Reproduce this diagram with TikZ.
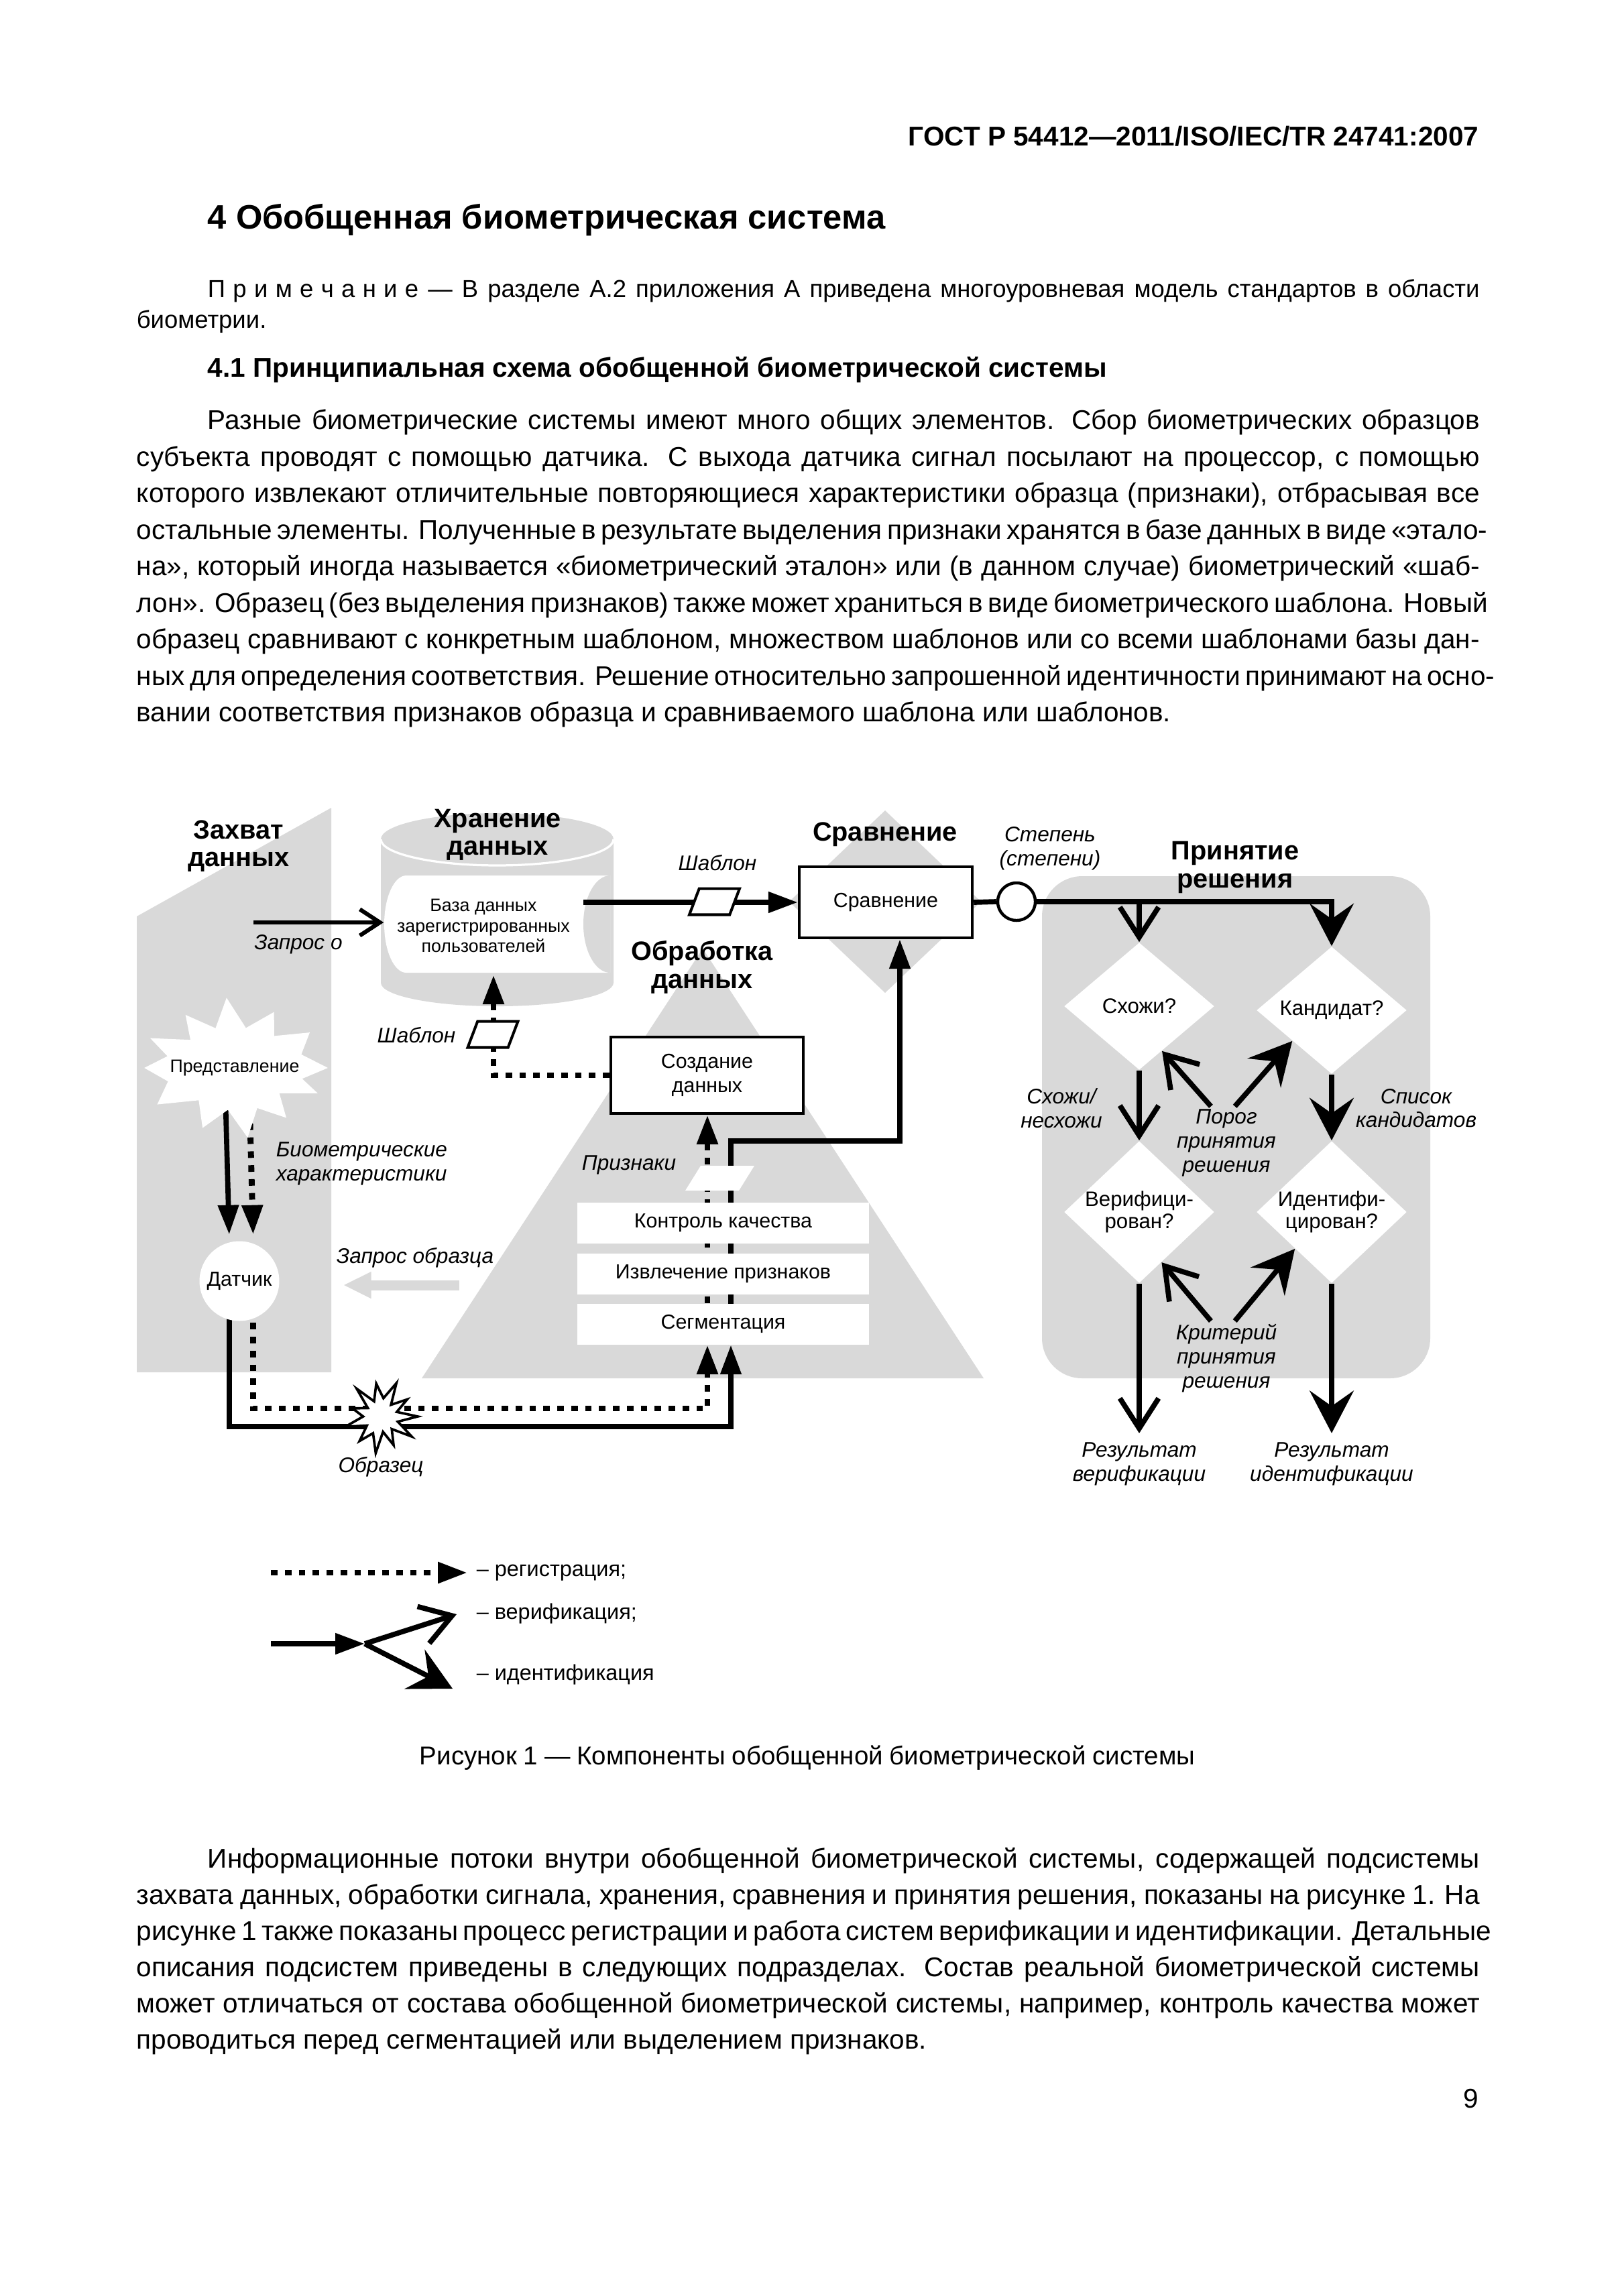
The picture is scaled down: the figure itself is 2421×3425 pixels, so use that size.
\documentclass[tikz,border=0pt]{standalone}
\usepackage{fontspec}
\setmainfont{Liberation Sans}
\usetikzlibrary{shapes.geometric,arrows.meta,positioning}
\definecolor{panel}{gray}{0.85}
\newcommand\px{0.08674mm}
\newlength\tw
\setlength\tw{173.74mm}
\newcommand\ls{\kern2.8pt}
\newcommand\bodyfont{\fontsize{10}{13.45}\selectfont}
\newcommand\notefont{\fontsize{9}{11.3}\selectfont}
\newcommand\hdfont{\fontsize{9.8}{10.2}\selectfont\bfseries}
\newcommand\lblfont{\fontsize{7.8}{8.8}\selectfont\itshape}
\newcommand\boxfont{\fontsize{7.5}{8.9}\selectfont}
\newcommand\tinyfont{\fontsize{6.6}{7.6}\selectfont}
\pgfdeclarelayer{zone}
\pgfdeclarelayer{wires}
\pgfsetlayers{zone,wires,main}
\tikzstyle{zonehead} = [font=\hdfont, align=center, inner sep=0pt]
\tikzstyle{lbl} = [font=\lblfont, align=center, inner sep=1pt]
\tikzstyle{legtxt} = [font=\fontsize{8}{9}\selectfont, anchor=west, inner sep=0pt]
\tikzstyle{procbox} = [rectangle, draw, line width=1.1pt, fill=white, font=\boxfont, align=center, inner sep=0pt]
\tikzstyle{band} = [rectangle, fill=white, minimum width=37.73mm, minimum height=5.29mm, inner sep=0pt, font=\boxfont]
\tikzstyle{sensor} = [circle, fill=white, minimum size=10.32mm, inner sep=0pt, font=\boxfont]
\tikzstyle{decide} = [diamond, fill=white, inner sep=0pt, minimum width=19.43mm, minimum height=16.48mm]
\tikzstyle{dtext} = [font=\fontsize{7.7}{8.3}\selectfont, align=center, inner sep=0pt]
\tikzstyle{slab} = [trapezium, trapezium stretches=true, trapezium left angle=72, trapezium right angle=108,
  draw, line width=1pt, fill=white, minimum width=6.5mm, minimum height=3.38mm, inner sep=1pt]
\tikzstyle{solidw} = [line width=1.9pt]
\tikzstyle{dotw} = [line width=2.2pt, dash pattern=on 0.85mm off 0.95mm]
\tikzset{
  tri/.tip={Triangle[length=3.8mm,width=2.6mm]},
  vtip/.tip={Straight Barb[length=3.9mm,width=5mm]},
  idtip/.tip={Stealth[length=5.5mm,width=5.7mm,inset=2mm]},
  qtip/.tip={Straight Barb[length=2.6mm,width=3.4mm]}
}
\begin{document}
\begin{tikzpicture}[x=\px, y=\px]
\useasboundingbox (0,0) rectangle (2421,-3425);

% grey zones
\begin{pgfonlayer}{zone}
\fill[white] (0,0) rectangle (2421,-3425);
\fill[panel] (204,-1367) -- (494,-1205) -- (494,-2047) -- (204,-2047) -- cycle;
\fill[panel] (568,-1252) -- (568,-1466) arc[start angle=180,end angle=360,x radius=15.05mm,y radius=3.04mm]
  -- (915,-1252) arc[start angle=0,end angle=180,x radius=15.05mm,y radius=3.38mm] -- cycle;
\draw[white, line width=0.8pt] (568,-1252) arc[start angle=180,end angle=360,x radius=15.05mm,y radius=3.38mm];
\fill[white] (910,-1306) -- (606,-1306) arc[start angle=90,end angle=270,x radius=2.86mm,y radius=6.29mm] -- (910,-1451) -- cycle;
\fill[panel] (910,-1306) arc[start angle=90,end angle=270,x radius=3.47mm,y radius=6.29mm] -- cycle;
\fill[panel] (1048,-1415) -- (1467,-2056) -- (629,-2056) -- cycle;
\fill[panel] (1320,-1209) -- (1463,-1345) -- (1320,-1481) -- (1177,-1345) -- cycle;
\fill[panel, rounded corners=5.2mm] (1554,-1307) rectangle (2133,-2056);
\coordinate (reqA) at (685,-1917);
\coordinate (reqB) at (512,-1917);
\draw[panel, line width=1.3mm, -{Triangle[length=3.6mm,width=3.2mm]}] (reqA) -- (reqB);
\end{pgfonlayer}

% page text
\node[anchor=mid east, inner sep=0pt, font=\fontsize{10}{12}\selectfont\bfseries] (gost) at (2206,-207) {ГОСТ Р 54412—2011/ISO/IEC/TR 24741:2007};
\node[anchor=mid west, inner sep=0pt, font=\fontsize{12.5}{15}\selectfont\bfseries] (sect) at (309,-331) {4 Обобщенная биометрическая система};
\node[anchor=mid west, inner sep=0pt, font=\notefont] (note) at (203,-433) {\vtop{%
  \hbox to\tw{\hskip9.2mm П\ls р\ls и\ls м\ls е\ls ч\ls а\ls н\ls и\ls е — В разделе А.2 приложения А приведена многоуровневая модель стандартов в области}
  \hbox{биометрии.}}};
\node[anchor=mid west, inner sep=0pt, font=\fontsize{10}{12}\selectfont\bfseries] (subsect) at (309,-552) {4.1 Принципиальная схема обобщенной биометрической системы};
\node[anchor=mid west, inner sep=0pt, font=\bodyfont] (para1) at (203,-630) {\vtop{%
  \hbox to\tw{\hskip9.2mm Разные биометрические системы имеют много общих элементов. Сбор биометрических образцов}
  \hbox to\tw{субъекта проводят с помощью датчика. С выхода датчика сигнал посылают на процессор, с помощью}
  \hbox to\tw{которого извлекают отличительные повторяющиеся характеристики образца (признаки), отбрасывая все}
  \hbox to\tw{остальные элементы. Полученные в результате выделения признаки хранятся в базе данных в виде «этало-}
  \hbox to\tw{на», который иногда называется «биометрический эталон» или (в данном случае) биометрический «шаб-}
  \hbox to\tw{лон». Образец (без выделения признаков) также может храниться в виде биометрического шаблона. Новый}
  \hbox to\tw{образец сравнивают с конкретным шаблоном, множеством шаблонов или со всеми шаблонами базы дан-}
  \hbox to\tw{ных для определения соответствия. Решение относительно запрошенной идентичности принимают на осно-}
  \hbox{вании соответствия признаков образца и сравниваемого шаблона или шаблонов.}}};

% bursts
\coordinate (reprC) at (350,-1593);
\coordinate (smpC) at (568,-2113);
\fill[white, shift={(reprC)}] (0:139 and 105)
  \foreach \a/\r in {15/0.74, 32/0.95, 47/0.62, 62/0.9, 78/0.58, 95/1.0, 110/0.6, 125/0.92, 140/0.62, 155/1.0, 167/0.74,
    180/0.97, 195/0.74, 212/0.98, 230/0.6, 248/0.92, 263/0.6, 278/1.0, 293/0.62, 308/0.9, 323/0.6, 338/0.96, 348/0.74}
  { -- (\a:{139*\r} and {105*\r}) } -- cycle;
\filldraw[fill=white, line width=0.9pt, shift={(smpC)}] (0:55)
  \foreach \a/\r in {16/0.45, 33/0.85, 49/0.42, 65/1.0, 82/0.5, 98/0.9, 114/0.45, 131/1.0, 147/0.42, 164/0.8, 180/0.48,
    196/1.0, 213/0.45, 229/0.88, 245/0.5, 262/1.0, 278/0.42, 294/0.85, 311/0.45, 327/1.0, 343/0.48}
  { -- (\a:{55*\r}) } -- cycle;

% nodes
\node[font=\tinyfont, inner sep=0pt] (repr) at (reprC) {Представление};
\node[inner sep=0pt] (smp) at (smpC) {};
\node[sensor] (sens) at (357,-1911) {Датчик};
\node[inner sep=0pt, font=\tinyfont, align=center, minimum width=25.68mm, minimum height=12.58mm] (db) at (721,-1381) {База данных\\зарегистрированных\\пользователей};
\node[procbox, minimum width=22.38mm, minimum height=9.19mm] (cmp) at (1321,-1346) {Сравнение};
\node[procbox, minimum width=24.89mm, minimum height=9.89mm] (tmpl) at (1054.5,-1604) {Создание\\данных};
\node[band] (qc) at (1078.5,-1824.5) {Контроль качества};
\node[band] (fe) at (1078.5,-1900) {Извлечение признаков};
\node[band] (seg) at (1078.5,-1975) {Сегментация};
\node[slab] (tpl1) at (1065.5,-1345) {};
\node[slab] (tpl2) at (735,-1543) {};
\node[slab, draw=none, minimum width=8.93mm, minimum height=3.21mm, trapezium left angle=68, trapezium right angle=112] (feat) at (1073.5,-1757.5) {};
\node[circle, draw, line width=1.1pt, fill=white, minimum size=4.86mm, inner sep=0pt] (score) at (1516,-1345) {};
\node[decide, label={[dtext]center:Схожи?}] (sim) at (1699,-1501) {};
\node[decide, label={[dtext]center:Кандидат?}] (cand) at (1986,-1507) {};
\node[decide, minimum height=18.39mm, label={[dtext]center:Верифици-\\рован?}] (ver) at (1699,-1808) {};
\node[decide, minimum height=18.39mm, label={[dtext]center:Идентифи-\\цирован?}] (ident) at (1986,-1808) {};

% headings and labels
\node[zonehead] (hcap) at (356,-1262) {Захват\\данных};
\node[zonehead] (hstore) at (742,-1245) {Хранение\\данных};
\node[zonehead] (hcmp) at (1320,-1245) {Сравнение};
\node[zonehead] (hproc) at (1047,-1443) {Обработка\\данных};
\node[zonehead] (hdec) at (1842,-1294) {Принятие\\решения};
\node[lbl] (lreq) at (445,-1409) {Запрос о};
\node[lbl] (ltpl1) at (1070,-1287) {Шаблон};
\node[lbl] (ltpl2) at (621,-1544) {Шаблон};
\node[lbl, anchor=west, align=left] (lbio) at (407,-1736) {Биометрические\\характеристики};
\node[lbl] (lreq2) at (619,-1876) {Запрос образца};
\node[lbl] (lsmp) at (568,-2188) {Образец};
\node[lbl] (lfeat) at (938,-1738) {Признаки};
\node[lbl] (lscore) at (1566,-1266) {Степень\\(степени)};
\node[lbl] (lsim) at (1583,-1653) {Схожи/\\несхожи};
\node[lbl] (lcand) at (2112,-1653) {Список\\кандидатов};
\node[lbl] (thr) at (1829,-1705) {Порог\\принятия\\решения};
\node[lbl] (crit) at (1829,-2026) {Критерий\\принятия\\решения};
\node[lbl] (resv) at (1699,-2184) {Результат\\верификации};
\node[lbl] (resi) at (1986,-2184) {Результат\\идентификации};

% connectors
\begin{pgfonlayer}{wires}
\coordinate (qo) at (378,-1376);
\draw[line width=1.5pt, -{qtip}] (qo) -- (qo -| db.west);
\draw[dotw, -{tri}] (tmpl.west) -| ([xshift=1.3mm]db.south);
\draw[solidw, -{tri}] (db.east |- cmp.west) -- (cmp.west);
\draw[solidw, -{tri}, shorten >=0.8mm] ([xshift=-1.3mm]repr.center) -- ([xshift=-1.3mm]sens.north);
\draw[dotw, -{tri}, shorten >=0.8mm] ([xshift=1.8mm]repr.center) -- ([xshift=1.8mm]sens.north);
\coordinate (laneS) at (1090,-2128);
\coordinate (laneD) at (1055,-2101);
\coordinate (knee) at (1342,-1702);
\draw[solidw, -{tri}] ([xshift=-1.3mm]sens.center) |- (laneS) -- (laneS |- seg.south);
\draw[dotw, -{tri}] ([xshift=1.8mm]sens.center) |- (laneD) -- (laneD |- seg.south);
\draw[dotw, -{tri}] (laneD |- seg.south) -- (laneD |- tmpl.south);
\draw[solidw, -{tri}] (laneS |- seg.south) |- (knee) -- (knee |- cmp.south);
\draw[solidw] (cmp.east) -- (score.west);
\draw[solidw, -{idtip}] (score.east) -| (cand.north);
\draw[solidw, -{vtip}] (score.east -| sim.north) -- (sim.north);
\draw[solidw, -{vtip}] (sim.south) -- (ver.north);
\draw[solidw, -{idtip}] (cand.south) -- (ident.north);
\draw[solidw, -{vtip}, shorten >=0.8mm] (ver.south) -- (resv.north);
\draw[solidw, -{idtip}, shorten >=0.8mm] (ident.south) -- (resi.north);
\draw[solidw, -{vtip}] ([xshift=-2mm]thr.north) -- (sim.-63);
\draw[solidw, -{idtip}] ([xshift=1.1mm]thr.north) -- (cand.218);
\draw[solidw, -{vtip}] ([xshift=-2mm]crit.north) -- (ver.-66);
\draw[solidw, -{idtip}] ([xshift=1.1mm]crit.north) -- (ident.225);
\end{pgfonlayer}

% legend
\coordinate (lgA) at (404,-2346);
\coordinate (lgB) at (697,-2346);
\coordinate (lgC) at (404,-2452);
\coordinate (lgJ) at (544,-2452);
\coordinate (lgV) at (681,-2408);
\coordinate (lgI) at (675,-2519);
\draw[dotw, -{tri}] (lgA) -- (lgB);
\draw[solidw, -{tri}] (lgC) -- (lgJ);
\draw[solidw, -{vtip}] (lgJ) -- (lgV);
\draw[solidw, -{idtip}] (lgJ) -- (lgI);
\node[legtxt] (lreg) at (710,-2346) {– регистрация;};
\node[legtxt] (lver) at (710,-2407) {– верификация;};
\node[legtxt] (lid) at (710,-2498) {– идентификация};

% caption and text below
\node[inner sep=0pt, font=\fontsize{9.5}{11}\selectfont] (capt) at (1204,-2622) {\hbox to 100.3mm{Рисунок 1 — Компоненты обобщенной биометрической системы}};
\node[anchor=mid west, inner sep=0pt, font=\fontsize{10}{13.33}\selectfont] (para2) at (203,-2776) {\vtop{%
  \hbox to\tw{\hskip9.2mm Информационные потоки внутри обобщенной биометрической системы, содержащей подсистемы}
  \hbox to\tw{захвата данных, обработки сигнала, хранения, сравнения и принятия решения, показаны на рисунке 1. На}
  \hbox to\tw{рисунке 1 также показаны процесс регистрации и работа систем верификации и идентификации. Детальные}
  \hbox to\tw{описания подсистем приведены в следующих подразделах. Состав реальной биометрической системы}
  \hbox to\tw{может отличаться от состава обобщенной биометрической системы, например, контроль качества может}
  \hbox{проводиться перед сегментацией или выделением признаков.}}};
\node[anchor=mid east, inner sep=0pt, font=\bodyfont] (pnum) at (2206,-3134) {9};
\end{tikzpicture}
\end{document}
